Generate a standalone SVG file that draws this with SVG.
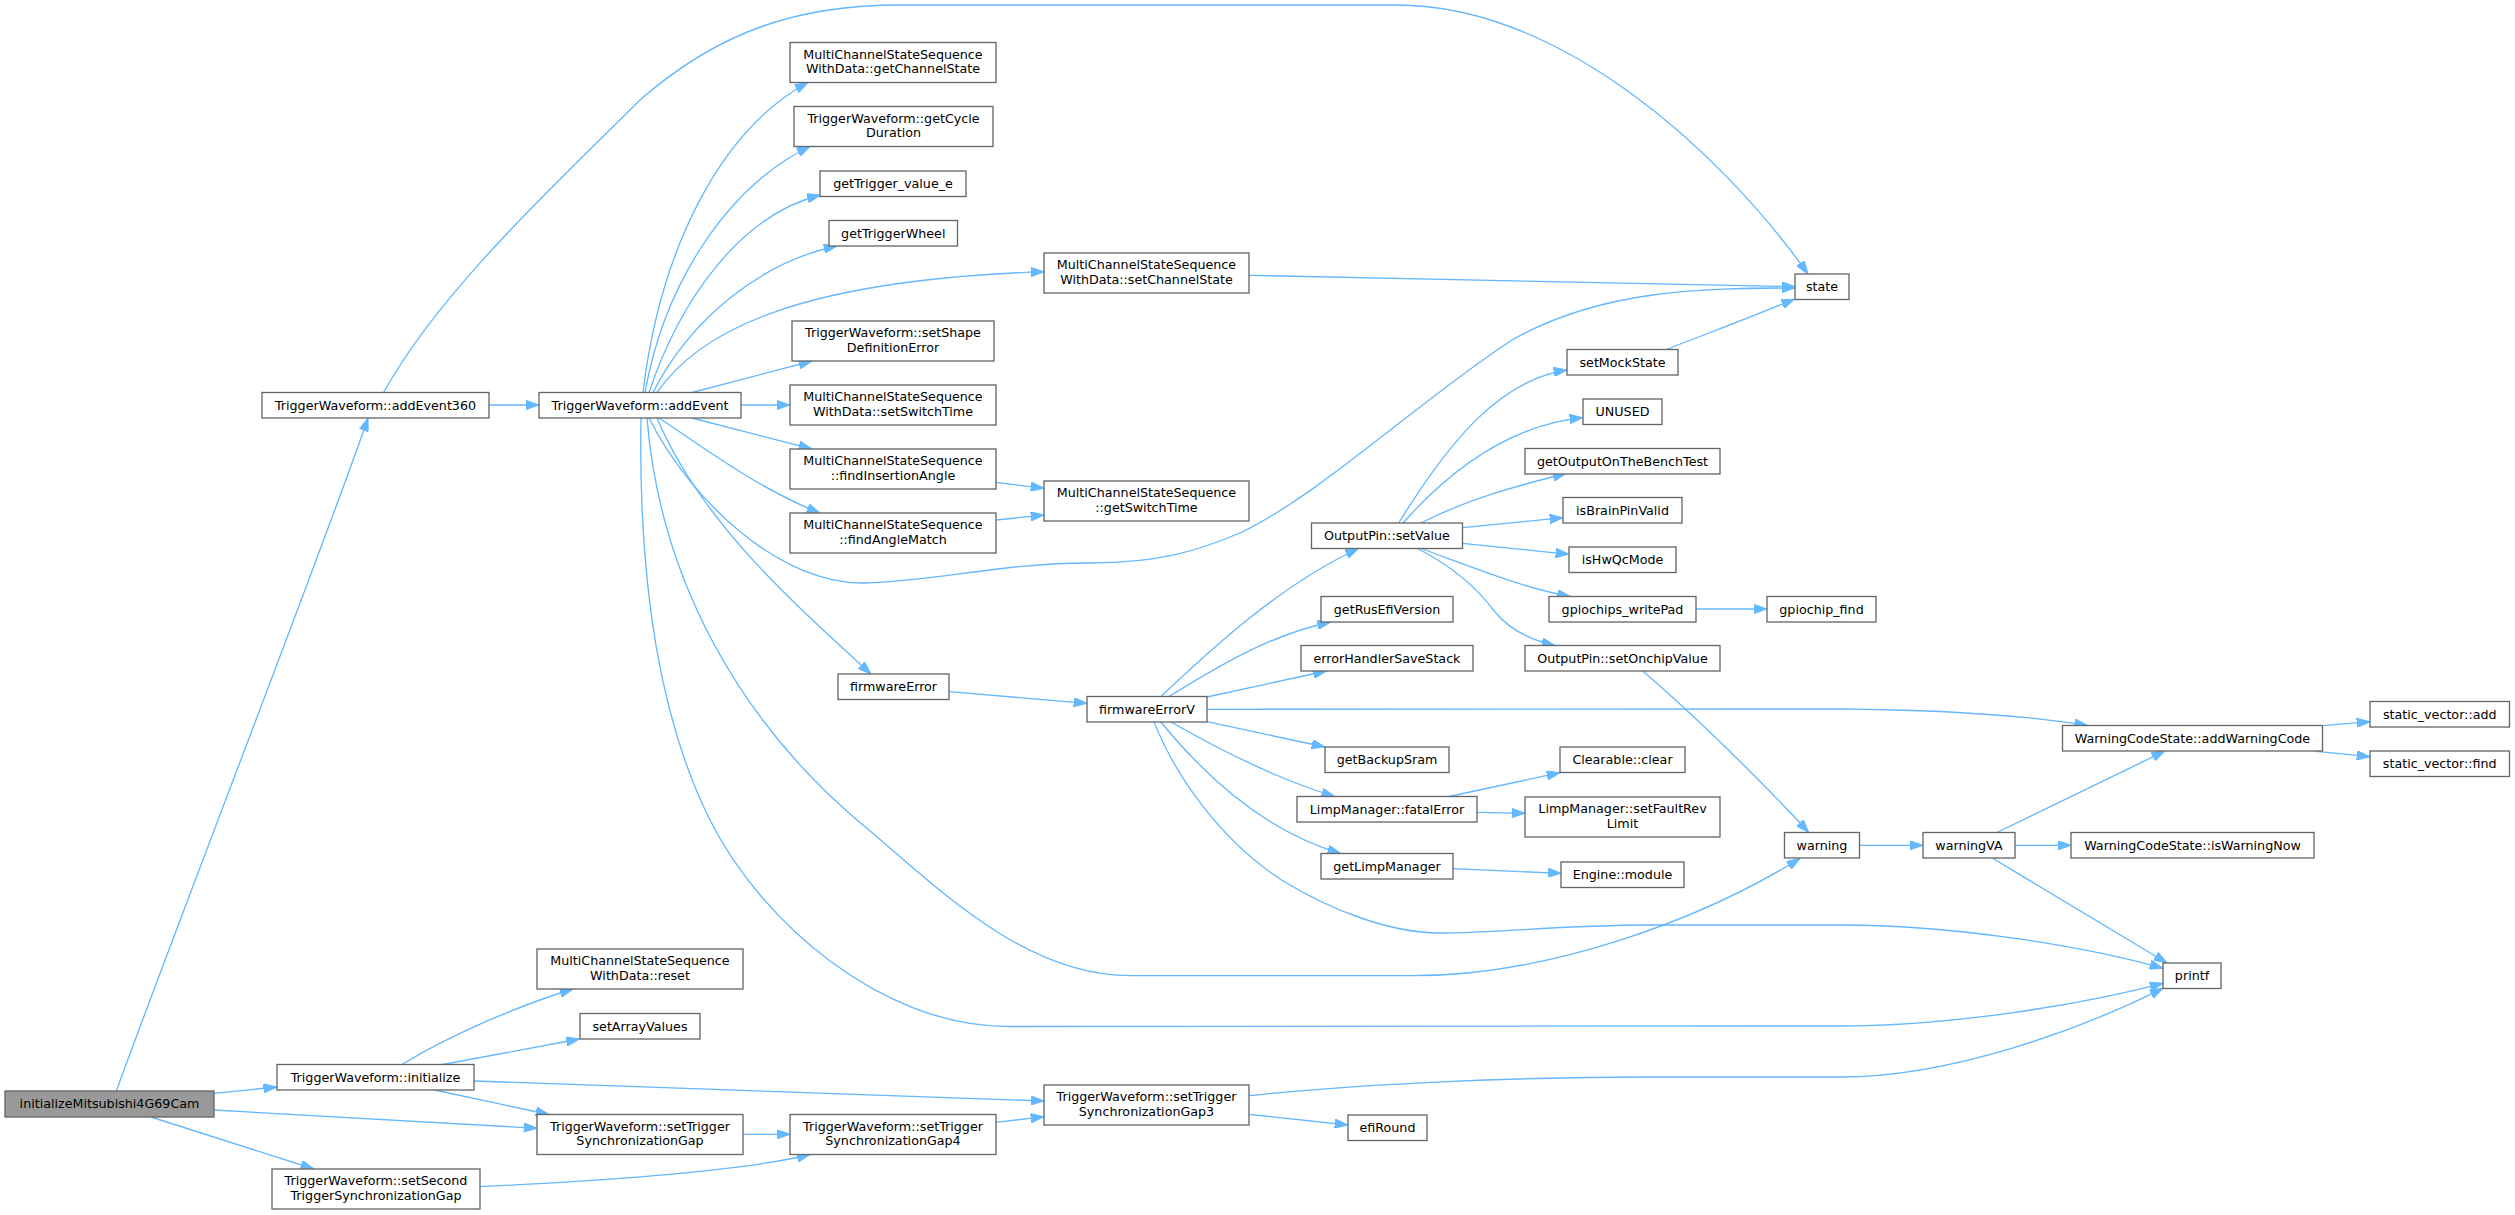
<svg xmlns="http://www.w3.org/2000/svg" width="2515" height="1215" viewBox="0 0 2515 1215">
<defs>
<marker id="a" markerWidth="13.3" markerHeight="9.4" refX="13.3" refY="4.7" orient="auto" markerUnits="userSpaceOnUse"><path d="M0,0 L13.3,4.7 L0,9.4 z" fill="#63b8ff" stroke="#63b8ff" stroke-width="1"/></marker>
</defs>
<style>
.n rect{fill:#ffffff;stroke:#666666;stroke-width:1.33}
.root rect{fill:#999999;stroke:#666666;stroke-width:1.33}
text{font-family:"DejaVu Sans","Liberation Sans",sans-serif;font-size:12.7px;text-anchor:middle;fill:#000000}
.e path{fill:none;stroke:#63b8ff;stroke-width:1.33;marker-end:url(#a)}
</style>
<rect width="2515" height="1215" fill="#ffffff"/>
<g class="e" id="edges">
<path d="M116.3,1091 C190,890 330,530 368,418"/>
<path d="M214,1093.3 L276.7,1087"/>
<path d="M214,1110 C330,1117 450,1123 537,1128.3"/>
<path d="M151,1117 L314,1169"/>
<path d="M402,1064.5 C450,1035 520,1005 573,989"/>
<path d="M442.7,1064.5 L579.5,1039"/>
<path d="M434.5,1090 L549,1114.5"/>
<path d="M474,1081 C700,1088 900,1095 1044,1101"/>
<path d="M743,1134.3 L790,1134.3"/>
<path d="M479.6,1186.7 C600,1181 740,1172 810,1154.5"/>
<path d="M996,1122.3 L1044,1116.7"/>
<path d="M1249,1114.3 L1348,1125"/>
<path d="M1249,1095.7 C1350,1085 1500,1077 1650,1077 L1840,1077 C1950,1077 2080,1030 2163,988.3"/>
<path d="M489,405 L539,405"/>
<path d="M383.6,392.5 C440,290 560,180 640,100 C720,30 800,5 900,5 L1396,5 C1560,5 1720,150 1808,274"/>
<path d="M643,392.5 C660,250 720,130 808,82.5"/>
<path d="M645,392.5 C665,280 730,185 810,146.5"/>
<path d="M649,392.5 C680,300 740,215 820.5,195"/>
<path d="M653,392.5 C690,320 760,262 837,246"/>
<path d="M657,392.5 C700,330 800,280 1044,271.7"/>
<path d="M692,392.5 L812,361"/>
<path d="M741,405 L790,405"/>
<path d="M692,418 L812,449"/>
<path d="M659,418 C700,445 760,490 820,513"/>
<path d="M649,418 C690,500 780,585 865,583 C940,581 1000,563 1090,563 C1160,563 1200,550 1240,533 C1320,495 1420,400 1512,340 C1600,290 1700,288 1795,288"/>
<path d="M657,418 C700,520 790,600 871,674"/>
<path d="M647,418 C660,580 740,720 857,820 C930,880 1020,975.7 1130,975.7 L1412,975.7 C1550,975.7 1700,920 1800,858.5"/>
<path d="M641,418 C638,600 665,730 710,820 C760,920 880,1026.5 1008,1026.5 L1840,1026 C1950,1026 2080,1005 2163,983.3"/>
<path d="M1249,275.3 L1795,286.7"/>
<path d="M996,482.3 L1044,488.3"/>
<path d="M996,520 L1044,515"/>
<path d="M949,691.7 L1087,703.3"/>
<path d="M1161,696.5 C1210,650 1280,585 1358.5,548.5"/>
<path d="M1169,696.5 C1220,665 1270,635 1330.6,622"/>
<path d="M1207,697 L1326.5,671"/>
<path d="M1207,709.3 L1840,709 C1950,710 2030,716 2087.5,725.5"/>
<path d="M1207,721.7 L1325,747"/>
<path d="M1171,722 C1220,750 1280,780 1334.6,796.5"/>
<path d="M1161,722 C1200,770 1260,830 1340.8,853.5"/>
<path d="M1154,722 C1175,775 1220,840 1281.6,880 C1330,910 1390,933 1440,933 C1500,933 1560,925 1650,925 L1840,925 C1950,925 2080,945 2163,968.3"/>
<path d="M1398.7,523 C1450,440 1500,380 1567,370"/>
<path d="M1403,523 C1450,470 1510,425 1583,417.7"/>
<path d="M1421,523 C1470,498 1520,485 1566,473.5"/>
<path d="M1462.5,527.7 L1563,517.7"/>
<path d="M1462.5,543.3 L1569,554.3"/>
<path d="M1421,548.5 C1480,570 1530,590 1570.5,596.5"/>
<path d="M1417.4,548.5 C1450,565 1475,585 1495,612 C1510,630 1530,640 1555,645.5"/>
<path d="M1666.5,349.5 C1700,336 1750,318 1794.6,299"/>
<path d="M1696,609 L1767,609"/>
<path d="M1642.7,671 C1700,720 1770,790 1808.7,832.5"/>
<path d="M1449,796.5 L1560,772.7"/>
<path d="M1477,812.3 L1525,813.3"/>
<path d="M1453,868.7 L1561,873.3"/>
<path d="M1859.5,845.3 L1923,845.3"/>
<path d="M2015,845.3 L2071,845.3"/>
<path d="M1997,832.5 L2165,751"/>
<path d="M1993,858.5 L2167,963"/>
<path d="M2323,725.7 L2370,721.7"/>
<path d="M2316,751.3 L2370,756.7"/>
</g>
<g id="initializeMitsubishi4G69Cam" class="root"><rect x="5" y="1091" width="209" height="26"/><text x="109.5" y="1108.3">initializeMitsubishi4G69Cam</text></g>
<g id="addEvent360" class="n"><rect x="262" y="392.5" width="227" height="25.5"/><text x="375.5" y="409.5">TriggerWaveform::addEvent360</text></g>
<g id="addEvent" class="n"><rect x="539" y="392.5" width="202" height="25.5"/><text x="640" y="409.5">TriggerWaveform::addEvent</text></g>
<g id="getChannelState" class="n"><rect x="790" y="42.5" width="206" height="40"/><text x="893" y="58.8">MultiChannelStateSequence</text><text x="893" y="73.1">WithData::getChannelState</text></g>
<g id="getCycleDuration" class="n"><rect x="794" y="106.5" width="199" height="40"/><text x="893.5" y="122.8">TriggerWaveform::getCycle</text><text x="893.5" y="137.1">Duration</text></g>
<g id="getTrigger_value_e" class="n"><rect x="820" y="171" width="146" height="25.5"/><text x="893" y="188">getTrigger_value_e</text></g>
<g id="getTriggerWheel" class="n"><rect x="829" y="220.5" width="128.5" height="25.5"/><text x="893.25" y="237.5">getTriggerWheel</text></g>
<g id="setChannelState" class="n"><rect x="1044" y="253" width="205" height="40"/><text x="1146.5" y="269.3">MultiChannelStateSequence</text><text x="1146.5" y="283.6">WithData::setChannelState</text></g>
<g id="setShapeDefinitionError" class="n"><rect x="792" y="321" width="202" height="40"/><text x="893" y="337.3">TriggerWaveform::setShape</text><text x="893" y="351.6">DefinitionError</text></g>
<g id="setSwitchTime" class="n"><rect x="790" y="385" width="206" height="40"/><text x="893" y="401.3">MultiChannelStateSequence</text><text x="893" y="415.6">WithData::setSwitchTime</text></g>
<g id="findInsertionAngle" class="n"><rect x="790" y="449" width="206" height="40"/><text x="893" y="465.3">MultiChannelStateSequence</text><text x="893" y="479.6">::findInsertionAngle</text></g>
<g id="findAngleMatch" class="n"><rect x="790" y="513" width="206" height="40"/><text x="893" y="529.3">MultiChannelStateSequence</text><text x="893" y="543.6">::findAngleMatch</text></g>
<g id="getSwitchTime" class="n"><rect x="1044" y="481" width="205" height="40"/><text x="1146.5" y="497.3">MultiChannelStateSequence</text><text x="1146.5" y="511.6">::getSwitchTime</text></g>
<g id="firmwareError" class="n"><rect x="838" y="674" width="111" height="25.5"/><text x="893.5" y="691">firmwareError</text></g>
<g id="firmwareErrorV" class="n"><rect x="1087" y="696.5" width="120" height="25.5"/><text x="1147" y="713.5">firmwareErrorV</text></g>
<g id="reset" class="n"><rect x="537" y="949" width="206" height="40"/><text x="640" y="965.3">MultiChannelStateSequence</text><text x="640" y="979.6">WithData::reset</text></g>
<g id="setArrayValues" class="n"><rect x="580" y="1013.5" width="120" height="25.5"/><text x="640" y="1030.5">setArrayValues</text></g>
<g id="initialize" class="n"><rect x="277" y="1064.5" width="197" height="25.5"/><text x="375.5" y="1081.5">TriggerWaveform::initialize</text></g>
<g id="setTriggerSynchronizationGap" class="n"><rect x="537" y="1114.5" width="206" height="40"/><text x="640" y="1130.8">TriggerWaveform::setTrigger</text><text x="640" y="1145.1">SynchronizationGap</text></g>
<g id="setSecondTriggerSynchronizationGap" class="n"><rect x="272" y="1169" width="208" height="40"/><text x="376" y="1185.3">TriggerWaveform::setSecond</text><text x="376" y="1199.6">TriggerSynchronizationGap</text></g>
<g id="setTriggerSynchronizationGap4" class="n"><rect x="790" y="1114.5" width="206" height="40"/><text x="893" y="1130.8">TriggerWaveform::setTrigger</text><text x="893" y="1145.1">SynchronizationGap4</text></g>
<g id="setTriggerSynchronizationGap3" class="n"><rect x="1044" y="1085" width="205" height="40"/><text x="1146.5" y="1101.3">TriggerWaveform::setTrigger</text><text x="1146.5" y="1115.6">SynchronizationGap3</text></g>
<g id="efiRound" class="n"><rect x="1348" y="1115" width="79" height="25.5"/><text x="1387.5" y="1132">efiRound</text></g>
<g id="state" class="n"><rect x="1795" y="274" width="54" height="25.5"/><text x="1822" y="291">state</text></g>
<g id="setMockState" class="n"><rect x="1567" y="349.5" width="111" height="25.5"/><text x="1622.5" y="366.5">setMockState</text></g>
<g id="UNUSED" class="n"><rect x="1583" y="399" width="79" height="25.5"/><text x="1622.5" y="416">UNUSED</text></g>
<g id="getOutputOnTheBenchTest" class="n"><rect x="1525" y="448.5" width="195" height="25.5"/><text x="1622.5" y="465.5">getOutputOnTheBenchTest</text></g>
<g id="isBrainPinValid" class="n"><rect x="1563" y="497.5" width="119" height="25.5"/><text x="1622.5" y="514.5">isBrainPinValid</text></g>
<g id="isHwQcMode" class="n"><rect x="1569" y="547" width="107" height="25.5"/><text x="1622.5" y="564">isHwQcMode</text></g>
<g id="setValue" class="n"><rect x="1311.5" y="523" width="151" height="25.5"/><text x="1387" y="540">OutputPin::setValue</text></g>
<g id="gpiochips_writePad" class="n"><rect x="1549" y="596.5" width="147" height="25.5"/><text x="1622.5" y="613.5">gpiochips_writePad</text></g>
<g id="gpiochip_find" class="n"><rect x="1767" y="596.5" width="109" height="25.5"/><text x="1821.5" y="613.5">gpiochip_find</text></g>
<g id="setOnchipValue" class="n"><rect x="1525" y="645.5" width="195" height="25.5"/><text x="1622.5" y="662.5">OutputPin::setOnchipValue</text></g>
<g id="getRusEfiVersion" class="n"><rect x="1321" y="596.5" width="132" height="25.5"/><text x="1387" y="613.5">getRusEfiVersion</text></g>
<g id="errorHandlerSaveStack" class="n"><rect x="1301" y="645.5" width="172" height="25.5"/><text x="1387" y="662.5">errorHandlerSaveStack</text></g>
<g id="getBackupSram" class="n"><rect x="1325" y="747" width="124" height="25.5"/><text x="1387" y="764">getBackupSram</text></g>
<g id="clear" class="n"><rect x="1560" y="747" width="125" height="25.5"/><text x="1622.5" y="764">Clearable::clear</text></g>
<g id="fatalError" class="n"><rect x="1297" y="796.5" width="180" height="25.5"/><text x="1387" y="813.5">LimpManager::fatalError</text></g>
<g id="setFaultRevLimit" class="n"><rect x="1525" y="797" width="195" height="40"/><text x="1622.5" y="813.3">LimpManager::setFaultRev</text><text x="1622.5" y="827.6">Limit</text></g>
<g id="getLimpManager" class="n"><rect x="1321" y="853.5" width="132" height="25.5"/><text x="1387" y="870.5">getLimpManager</text></g>
<g id="module" class="n"><rect x="1561" y="862" width="123" height="25.5"/><text x="1622.5" y="879">Engine::module</text></g>
<g id="warning" class="n"><rect x="1784.5" y="832.5" width="75" height="25.5"/><text x="1822" y="849.5">warning</text></g>
<g id="warningVA" class="n"><rect x="1923" y="832.5" width="92" height="25.5"/><text x="1969" y="849.5">warningVA</text></g>
<g id="isWarningNow" class="n"><rect x="2071" y="832.5" width="243" height="25.5"/><text x="2192.5" y="849.5">WarningCodeState::isWarningNow</text></g>
<g id="addWarningCode" class="n"><rect x="2062.5" y="725.5" width="260" height="25.5"/><text x="2192.5" y="742.5">WarningCodeState::addWarningCode</text></g>
<g id="static_vector_add" class="n"><rect x="2370" y="701.5" width="139.5" height="25.5"/><text x="2439.75" y="718.5">static_vector::add</text></g>
<g id="static_vector_find" class="n"><rect x="2370" y="751" width="139.5" height="25.5"/><text x="2439.75" y="768">static_vector::find</text></g>
<g id="printf" class="n"><rect x="2163" y="963" width="58" height="25.5"/><text x="2192" y="980">printf</text></g>
</svg>
